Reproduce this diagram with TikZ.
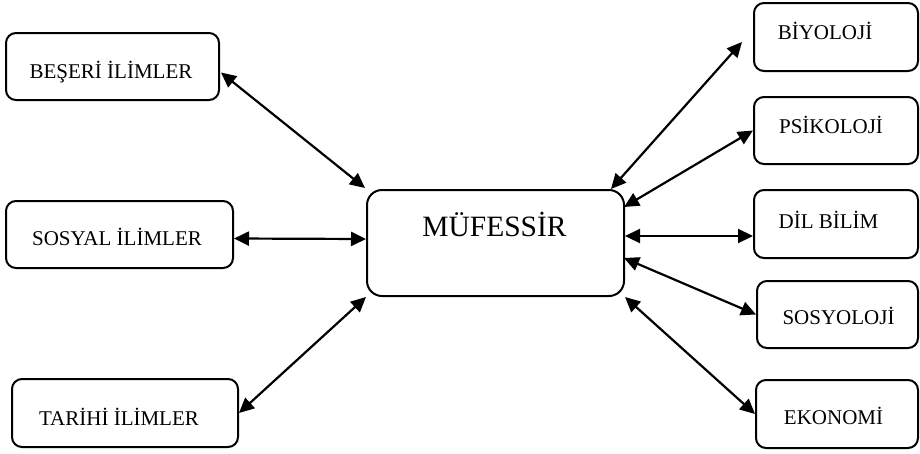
\documentclass[tikz,border=0pt]{standalone}
\usepackage{fontspec}
\setmainfont{Liberation Serif}
\usetikzlibrary{arrows.meta,calc}
\begin{document}
\begin{tikzpicture}[x=1pt,y=-1pt,
  box/.style={draw=black,line width=2pt,rounded corners=10pt,inner sep=0pt},
  lbl/.style={anchor=base,inner sep=0pt,font=\fontsize{21}{25}\selectfont},
  conn/.style={line width=2.2pt,{Triangle[length=15pt,width=14pt]}-{Triangle[length=15pt,width=14pt]}}]
\useasboundingbox (0,0) rectangle (920,453);
% left boxes
\node[box,minimum width=213pt,minimum height=67pt] (b) at (112.5,66.5) {};
\node[lbl] (bT) at (111,78) {BEŞERİ İLİMLER};
\node[box,minimum width=227pt,minimum height=67pt] (s) at (119.5,234.5) {};
\node[lbl] (sT) at (117,245) {SOSYAL İLİMLER};
\node[box,minimum width=226pt,minimum height=68pt] (t) at (125,413) {};
\node[lbl] (tT) at (119,425) {TARİHİ İLİMLER};
% center
\node[box,rounded corners=15pt,minimum width=257pt,minimum height=106pt] (m) at (495.5,243) {};
\node[lbl,font=\fontsize{29.5}{34}\selectfont] (mT) at (494.5,236) {MÜFESSİR};
% right boxes
\node[box,minimum width=164pt,minimum height=68pt] (bi) at (836,37) {};
\node[lbl] (biT) at (825,39) {BİYOLOJİ};
\node[box,minimum width=164pt,minimum height=67pt] (p) at (836,130.5) {};
\node[lbl] (pT) at (831,133) {PSİKOLOJİ};
\node[box,minimum width=164pt,minimum height=68pt] (d) at (836,224) {};
\node[lbl] (dT) at (828.5,228) {DİL BİLİM};
\node[box,minimum width=161pt,minimum height=67pt] (so) at (837.5,314.5) {};
\node[lbl] (soT) at (838.5,324) {SOSYOLOJİ};
\node[box,minimum width=162pt,minimum height=68pt] (e) at (837,414) {};
\node[lbl] (eT) at (833.5,424) {EKONOMİ};
% connectors
\draw[conn] ($(b.east)+(1,6)$) -- ($(m.north west)+(-1,-1)$);
\draw[conn] ($(s.east)+(0,4)$) -- ($(m.west)+(0,-4)$);
\draw[conn] (t.east) -- (m.south west);
\draw[conn] ($(m.north east)+(-14,0)$) -- ($(bi.west)+(-11,5)$);
\draw[conn] ($(m.north east)+(-1,18)$) -- (p.west);
\draw[conn] ($(m.east)+(0,-7)$) -- ($(d.west)+(0,12)$);
\draw[conn] ($(m.east)+(-1,15)$) -- (so.west);
\draw[conn] (m.south east) -- (e.west);
\end{tikzpicture}
\end{document}
